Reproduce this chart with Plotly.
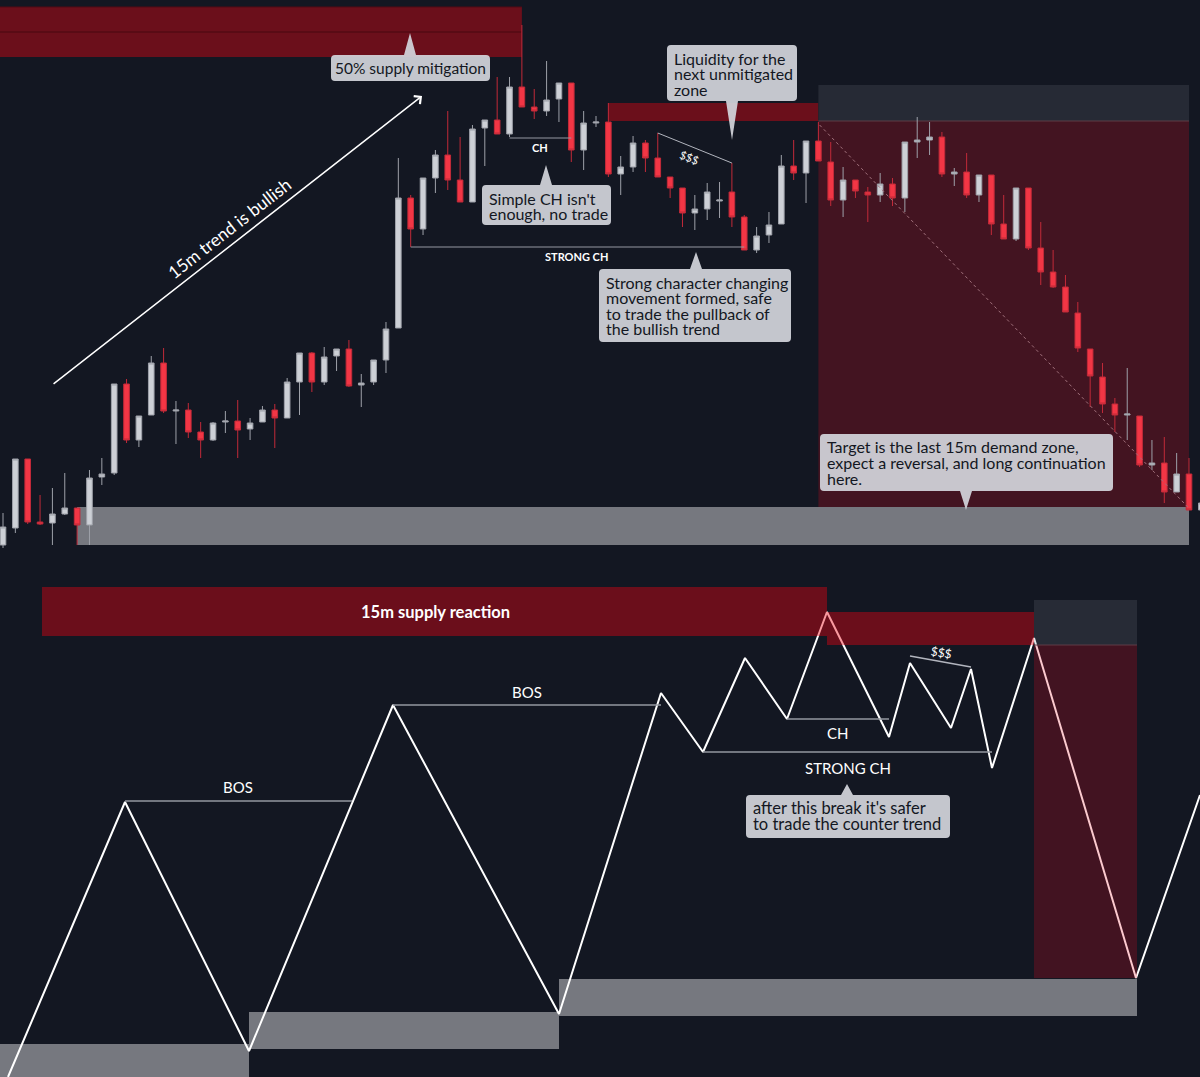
import plotly.graph_objects as go

W, H = 1200, 1077
BG = "#131722"
FONT = "Lato"

# ---------------- top panel : candles (price units) ----------------
bar_index = list(range(98))
opens = [0, 17, 86, 23, 22, 31, 37, 20, 68, 72,
         161, 105, 130, 182, 134, 135, 113, 105, 123, 124,
         116, 123, 135, 127, 163, 192, 163, 189, 196, 160,
         163, 185, 217, 347, 316, 367, 390, 365, 343, 417,
         425, 411, 458, 438, 434, 446, 462, 395, 422, 423,
         371, 378, 402, 387, 368, 357, 332, 336, 344, 353,
         328, 295, 310, 321, 379, 372, 404, 383, 345, 365,
         353, 350, 361, 347, 403, 405, 408, 371, 373, 350,
         370, 321, 306, 357, 297, 273, 258, 232, 196, 168,
         141, 130, 129, 80, 82, 53, 71, 35]
highs = [32, 86, 86, 50, 57, 72, 37, 75, 87, 161,
         166, 129, 189, 197, 144, 142, 123, 123, 134, 145,
         127, 139, 141, 167, 192, 193, 198, 196, 205, 171,
         185, 223, 387, 350, 367, 395, 434, 408, 420, 425,
         468, 468, 520, 456, 484, 462, 462, 434, 429, 442,
         389, 409, 405, 412, 368, 357, 350, 362, 363, 382,
         330, 318, 333, 390, 405, 404, 423, 403, 378, 365,
         358, 372, 367, 403, 428, 423, 413, 377, 392, 370,
         370, 350, 357, 357, 323, 295, 270, 243, 196, 182,
         147, 177, 129, 105, 108, 92, 87, 45]
lows = [-3, 12, 21, 20, 0, 30, 0, 0, 60, 70,
        102, 98, 130, 132, 101, 107, 87, 104, 112, 87,
        105, 123, 97, 127, 130, 153, 160, 174, 158, 138,
        160, 172, 217, 298, 310, 352, 355, 343, 343, 379,
        411, 408, 438, 426, 429, 423, 383, 375, 418, 368,
        350, 373, 373, 368, 347, 318, 315, 325, 327, 318,
        295, 292, 302, 321, 365, 342, 384, 339, 328, 347,
        323, 343, 339, 333, 387, 390, 368, 359, 347, 343,
        310, 306, 304, 295, 260, 257, 233, 193, 138, 132,
        113, 105, 78, 75, 42, 53, 35, 33]
closes = [18, 86, 23, 21, 31, 37, 20, 67, 71, 161,
          105, 129, 182, 134, 135, 113, 105, 122, 124, 115,
          122, 135, 127, 163, 192, 163, 188, 196, 159, 162,
          185, 216, 347, 316, 367, 390, 365, 343, 416, 425,
          411, 458, 438, 434, 445, 462, 395, 422, 423, 371,
          378, 402, 387, 368, 357, 332, 336, 353, 345, 328,
          295, 309, 320, 379, 372, 404, 384, 345, 365, 354,
          350, 361, 347, 403, 405, 408, 371, 373, 350, 370,
          321, 306, 357, 297, 273, 258, 233, 197, 169, 141,
          130, 131, 80, 82, 53, 71, 35, 42]

# ---------------- bottom panel : structure zigzag ----------------
swing_t = [8, 125, 249, 393, 559, 661, 703, 745, 787, 827, 889, 910, 951, 971, 992, 1034, 1136, 1200]
swing_level = [0, 275, 26, 372, 63, 384, 325, 419, 358, 465, 340, 414, 349, 408, 309, 439, 99, 282]

SUPPLY = "#6b0f1b"
SUPPLY_A = "rgba(239,3,17,0.40)"
REDZONE = "#431421"
REDZONE_A = "rgba(237,9,30,0.22)"
GREYBOX = "#262a35"
GREYBOX_A = "rgba(120,123,134,0.20)"
DEMAND = "#76787f"

# zones: (x0, x1, y0, y1, colour, layer)
top_zones = [
    (-1, 42, 488, 538, SUPPLY, "below"),
    (49, 66, 424, 442, SUPPLY, "below"),
    (66, 96, 424, 460, GREYBOX, "below"),
    (66, 96, 38, 424, REDZONE, "below"),
    (6, 96, 0, 38, DEMAND, "below"),
]
bottom_zones = [
    (0, 249, -5, 33, DEMAND, "below"),
    (249, 559, 28, 65, DEMAND, "below"),
    (559, 1137, 61, 98, DEMAND, "below"),
    (42, 827, 441, 490, SUPPLY_A, "above"),
    (827, 1034, 432, 465, SUPPLY_A, "above"),
    (1034, 1137, 432, 477, GREYBOX_A, "above"),
    (1034, 1137, 99, 432, REDZONE_A, "above"),
]

fig = go.Figure()

fig.add_trace(go.Candlestick(
    x=bar_index, open=opens, high=highs, low=lows, close=closes,
    increasing=dict(line=dict(color="#9ea1a9", width=1), fillcolor="#cdd0d6"),
    decreasing=dict(line=dict(color="#c22a39", width=1), fillcolor="#f23645"),
    whiskerwidth=0, hoverinfo="skip", xaxis="x", yaxis="y", showlegend=False))

fig.add_trace(go.Scatter(
    x=swing_t, y=swing_level, mode="lines",
    line=dict(color="#ffffff", width=2), xaxis="x2", yaxis="y2",
    hoverinfo="skip", showlegend=False))

shapes = []
for x0, x1, y0, y1, c, lay in top_zones:
    shapes.append(dict(type="rect", xref="x", yref="y", x0=x0, x1=x1, y0=y0, y1=y1,
                       fillcolor=c, line=dict(width=0), layer=lay))
for x0, x1, y0, y1, c, lay in bottom_zones:
    shapes.append(dict(type="rect", xref="x2", yref="y2", x0=x0, x1=x1, y0=y0, y1=y1,
                       fillcolor=c, line=dict(width=0), layer=lay))


def hline(xr, yr, x0, x1, y0, y1, color, width=1, dash="solid", layer="above"):
    return dict(type="line", xref=xr, yref=yr, x0=x0, x1=x1, y0=y0, y1=y1,
                line=dict(color=color, width=width, dash=dash), layer=layer)


# top structure lines
shapes += [
    hline("x", "y", -1, 42, 513, 513, "#530b15", 1.5, layer="below"),
    hline("x", "y", -1, 42, 538, 538, "#520b15", 1, layer="below"),
    hline("x", "y", 66, 96, 424, 424, "#5e3c47", 1, layer="below"),
    hline("x", "y", 41, 46, 407, 407, "#9598a1", 1),
    hline("x", "y", 33, 60, 298, 298, "#9598a1", 1),
    hline("x", "y", 53, 59, 412, 382, "#b2b5be", 1),
    hline("x", "y", 66.1, 95.9, 420, 38, "#a0707b", 1, dash="dot"),
]
# bottom structure lines
shapes += [
    hline("x2", "y2", 125, 352, 276, 276, "#9598a1", 1.5),
    hline("x2", "y2", 393, 661, 372, 372, "#9598a1", 1.5),
    hline("x2", "y2", 787, 889, 358, 358, "#9598a1", 1.5),
    hline("x2", "y2", 703, 992, 325, 325, "#9598a1", 1.5),
    hline("x2", "y2", 910, 971, 421, 410, "#b2b5be", 1.5),
    hline("x2", "y2", 1034, 1137, 432, 432, "#5e3c47", 1),
]


def X(px):
    return px / W


def Y(py):
    return 1 - py / H


def callout_path(x0, y0, x1, y1, tip, side, r=4, hw=6):
    tx, ty = tip
    p = [f"M{X(x0 + r)},{Y(y0)}"]
    if side == "top":
        p.append(f"L{X(tx - hw)},{Y(y0)} L{X(tx)},{Y(ty)} L{X(tx + hw)},{Y(y0)}")
    p.append(f"L{X(x1 - r)},{Y(y0)} Q{X(x1)},{Y(y0)} {X(x1)},{Y(y0 + r)}")
    p.append(f"L{X(x1)},{Y(y1 - r)} Q{X(x1)},{Y(y1)} {X(x1 - r)},{Y(y1)}")
    if side == "bottom":
        p.append(f"L{X(tx + hw)},{Y(y1)} L{X(tx)},{Y(ty)} L{X(tx - hw)},{Y(y1)}")
    p.append(f"L{X(x0 + r)},{Y(y1)} Q{X(x0)},{Y(y1)} {X(x0)},{Y(y1 - r)}")
    p.append(f"L{X(x0)},{Y(y0 + r)} Q{X(x0)},{Y(y0)} {X(x0 + r)},{Y(y0)} Z")
    return " ".join(p)


callouts = [
    dict(box=(331, 55, 490, 81), tip=(410, 33), side="top", align="center", size=15.5,
         lines=["50% supply mitigation"]),
    dict(box=(667, 45, 797, 101), tip=(732, 140), side="bottom", align="left", size=16,
         lines=["Liquidity for the", "next unmitigated", "zone"]),
    dict(box=(482, 185, 611, 225), tip=(546, 165), side="top", align="left", size=16,
         lines=["Simple CH isn't", "enough, no trade"]),
    dict(box=(599, 269, 791, 342), tip=(696, 252), side="top", align="left", size=16,
         lines=["Strong character changing", "movement formed, safe",
                "to trade the pullback of", "the bullish trend"]),
    dict(box=(820, 434, 1113, 491), tip=(966, 510), side="bottom", align="left", size=16,
         lines=["Target is the last 15m demand zone,",
                "expect a reversal, and long continuation", "here."]),
    dict(box=(746, 795, 950, 838), tip=(847, 784), side="top", align="left", size=16.5,
         lines=["after this break it's safer", "to trade the counter trend"]),
]

annotations = []
for c in callouts:
    x0, y0, x1, y1 = c["box"]
    shapes.append(dict(type="path", xref="paper", yref="paper",
                       path=callout_path(x0, y0, x1, y1, c["tip"], c["side"]),
                       fillcolor="rgba(212,214,220,0.92)", line=dict(width=0), layer="above"))
    for k, t in enumerate(c["lines"]):
        if c["align"] == "center":
            xa, xx = "center", (x0 + x1) / 2
            yy = (y0 + y1) / 2
        else:
            xa, xx = "left", x0 + 5
            yy = y0 + 13 + 15.5 * k
        annotations.append(dict(xref="paper", yref="paper", x=X(xx), y=Y(yy),
                                xanchor=xa, yanchor="middle", text=t, showarrow=False,
                                font=dict(family=FONT, size=c["size"], color="#131722")))

# text labels in data coordinates
labels = [
    ("x", "y", 43.47, 398, "CH", 11, 0, True),
    ("x", "y", 46.46, 289, "STRONG CH", 11, 0, True),
    ("x", "y", 55.6, 388, "$$$", 11, 22, False),
    ("x", "y", 18.3, 317, "15m trend is bullish", 17.5, -38, False),
    ("x2", "y2", 435, 465, "15m supply reaction", 16.5, 0, True),
    ("x2", "y2", 238, 290, "BOS", 15, 0, False),
    ("x2", "y2", 527, 385, "BOS", 15, 0, False),
    ("x2", "y2", 837, 344, "CH", 15, 0, False),
    ("x2", "y2", 848, 309, "STRONG CH", 15, 0, False),
    ("x2", "y2", 941, 425, "$$$", 12, 9, False),
]
for xr, yr, xx, yy, t, sz, ang, bold in labels:
    annotations.append(dict(xref=xr, yref=yr, x=xx, y=yy, text=(f"<b>{t}</b>" if bold else t),
                            showarrow=False, textangle=ang, xanchor="center", yanchor="middle",
                            font=dict(family=FONT, size=sz, color="#ffffff")))

# trend arrow
annotations.append(dict(xref="x", yref="y", axref="x", ayref="y", x=33.92, y=449, ax=3.97, ay=160,
                        text="", showarrow=True, arrowhead=4, arrowsize=1.3, arrowwidth=1.5,
                        arrowcolor="#ffffff", standoff=0, startstandoff=0))

ax_common = dict(visible=False, showgrid=False, zeroline=False, fixedrange=True)
fig.update_layout(
    width=W, height=H, margin=dict(l=0, r=0, t=0, b=0),
    paper_bgcolor=BG, plot_bgcolor=BG, showlegend=False, boxgap=0.35,
    xaxis=dict(domain=[0, 1], range=[-0.2428, 96.89], anchor="y",
               rangeslider=dict(visible=False), **ax_common),
    yaxis=dict(domain=[1 - 550 / H, 1], range=[-5, 545], anchor="x", **ax_common),
    xaxis2=dict(domain=[0, 1], range=[0, 1200], anchor="y2", **ax_common),
    yaxis2=dict(domain=[0, 502 / H], range=[0, 502], anchor="x2", **ax_common),
    shapes=shapes, annotations=annotations,
)

fig.write_html("out.html")
